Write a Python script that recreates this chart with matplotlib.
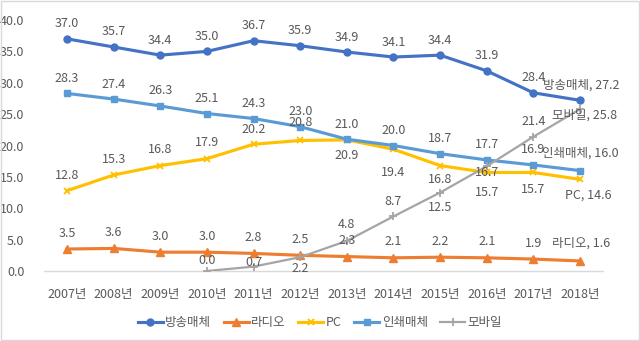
import numpy as np
import matplotlib.pyplot as plt
from matplotlib.patches import Rectangle

plt.rcParams['font.family'] = ['Noto Sans CJK KR', 'DejaVu Sans']

years = ['2007년', '2008년', '2009년', '2010년', '2011년', '2012년',
         '2013년', '2014년', '2015년', '2016년', '2017년', '2018년']

broadcast = [37.0, 35.7, 34.4, 35.0, 36.7, 35.9, 34.9, 34.1, 34.4, 31.9, 28.4, 27.2]
radio = [3.5, 3.6, 3.0, 3.0, 2.8, 2.5, 2.3, 2.1, 2.2, 2.1, 1.9, 1.6]
pc = [12.8, 15.3, 16.8, 17.9, 20.2, 20.8, 20.9, 19.4, 16.8, 15.7, 15.7, 14.6]
printed = [28.3, 27.4, 26.3, 25.1, 24.3, 23.0, 21.0, 20.0, 18.7, 17.7, 16.9, 16.0]
mobile = [np.nan, np.nan, np.nan, 0.0, 0.7, 2.2, 4.8, 8.7, 12.5, 16.7, 21.4, 25.8]

names = ['방송매체', '라디오', 'PC', '인쇄매체', '모바일']
series = [broadcast, radio, pc, printed, mobile]

# line styles per series
colors = ['#4472C4', '#ED7D31', '#FFC000', '#5B9BD5', '#A5A5A5']
markers = ['o', '^', 'x', 's', '+']
msizes = [5, 5.5, 5, 5, 6]
lwidths = [2.25, 2.25, 2.25, 2.25, 1.6]

# label offsets in pixels (dy up, dx right), one per point
dy = [
    [15] * 12,
    [16] * 11 + [18],
    [15, 15, 16, 16, 15, 18, -16, -23, -14, -20, -17, -16],
    [15] * 11 + [17],
    [0, 0, 0, 10, 4, -11, 16, 15, -15, -6, 15, -6],
]
dx_last = [1, 1, 8, 0, 5]

text_col = '#595959'

fig = plt.figure(figsize=(6.4, 3.41), dpi=100)
ax = fig.add_axes([0.0683, 0.2053, 0.8744, 0.736])
x = np.arange(len(years))

for i, (name, vals) in enumerate(zip(names, series)):
    ax.plot(x, vals, color=colors[i], lw=lwidths[i], marker=markers[i],
            ms=msizes[i], mew=1.3 if markers[i] in 'x+' else 1,
            label=name, zorder=2 + i)
    for j, v in enumerate(vals):
        if np.isnan(v):
            continue
        txt = f'{v:.1f}'
        ox = 0
        if j == len(vals) - 1:
            txt = f'{name}, {v:.1f}'
            ox = dx_last[i]
        ax.annotate(txt, (x[j], v), xytext=(ox, dy[i][j]),
                    textcoords='offset pixels', ha='center', va='center',
                    fontsize=9, color=text_col, zorder=10)

ax.set_xlim(-0.5, len(years) - 0.5)
ax.set_ylim(0, 40)
ax.set_xticks(x)
ax.set_xticklabels(years)
ax.set_yticks(np.arange(0, 41, 5))
ax.set_yticklabels([f'{t:.1f}' for t in np.arange(0, 41, 5)])
ax.tick_params(length=0, labelsize=9, colors=text_col)
ax.tick_params(axis='x', pad=12)
ax.tick_params(axis='y', pad=14)
for s in ['top', 'right', 'left']:
    ax.spines[s].set_visible(False)
ax.spines['bottom'].set_color('#D9D9D9')
ax.spines['bottom'].set_linewidth(1)

leg = fig.legend(loc='center', bbox_to_anchor=(0.5, 0.053), ncol=5,
                 frameon=False, fontsize=9, handlelength=2.0,
                 handletextpad=0.2, columnspacing=1.0)
for t in leg.get_texts():
    t.set_color(text_col)

# thin border around the whole chart
fig.patches.append(Rectangle((0.001, 0.002), 0.997, 0.995, transform=fig.transFigure,
                             fill=False, edgecolor='#D9D9D9', lw=1))

fig.savefig('out.png', dpi=100)
